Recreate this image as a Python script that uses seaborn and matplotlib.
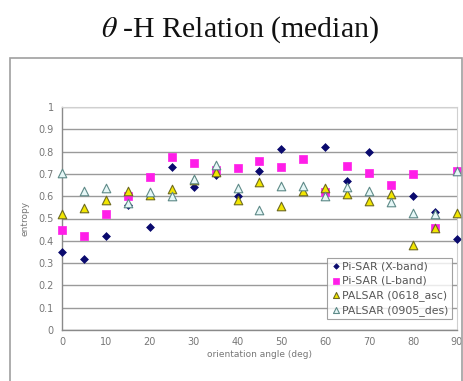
import numpy as np
import pandas as pd
import matplotlib
matplotlib.use('Agg')
import matplotlib.pyplot as plt
import seaborn as sns
from matplotlib.patches import Rectangle

sns.set_style('white')
plt.rcParams['font.family'] = ['DejaVu Sans']
plt.rcParams['mathtext.fontset'] = 'stix'

# ------------------------------------------------------------
# data (median entropy vs orientation angle)
# ------------------------------------------------------------
angle = [0, 5, 10, 15, 20, 25, 30, 35, 40, 45, 50, 55, 60, 65, 70, 75, 80, 85, 90]

x_band = [0.35, 0.32, 0.42, 0.56, 0.46, 0.73, 0.64, 0.695, 0.60, 0.714, 0.81,
          np.nan, 0.82, 0.67, 0.80, np.nan, 0.60, 0.53, 0.41]
l_band = [0.447, 0.42, 0.518, 0.60, 0.685, 0.778, 0.749, 0.718, 0.725, 0.76, 0.732,
          0.767, 0.62, 0.734, 0.704, 0.652, 0.698, 0.458, 0.713]
palsar_asc = [0.52, 0.545, 0.585, 0.623, 0.605, 0.632, 0.673, 0.71, 0.585, 0.665, 0.555,
              0.623, 0.638, 0.608, 0.578, 0.61, 0.383, 0.458, 0.525]
palsar_des = [0.705, 0.623, 0.638, 0.57, 0.62, 0.60, 0.677, 0.74, 0.636, 0.537, 0.645,
              0.645, 0.60, 0.643, 0.625, 0.576, 0.525, 0.518, 0.713]

series_names = ['Pi-SAR (X-band)', 'Pi-SAR (L-band)', 'PALSAR (0618_asc)', 'PALSAR (0905_des)']
y_ticks = [0, 0.1, 0.2, 0.3, 0.4, 0.5, 0.6, 0.7, 0.8, 0.9, 1]
y_tick_labels = ['0', '0.1', '0.2', '0.3', '0.4', '0.5', '0.6', '0.7', '0.8', '0.9', '1']
x_ticks = [0, 10, 20, 30, 40, 50, 60, 70, 80, 90]

df = pd.DataFrame({'angle': angle,
                   series_names[0]: x_band,
                   series_names[1]: l_band,
                   series_names[2]: palsar_asc,
                   series_names[3]: palsar_des})
df = df.melt(id_vars='angle', var_name='series', value_name='entropy')

styles = {
    series_names[0]: dict(marker='D', s=16, color='#0a0a6e', edgecolor='#0a0a6e', linewidth=0.5),
    series_names[1]: dict(marker='s', s=30, color='#ff1ee8', edgecolor='#ff1ee8', linewidth=0.5),
    series_names[2]: dict(marker='^', s=38, color='#f2e600', edgecolor='#6e6a20', linewidth=0.8),
    series_names[3]: dict(marker='^', s=38, color='#e6f7f7', edgecolor='#5e8a88', linewidth=0.8),
}

# ------------------------------------------------------------
# figure
# ------------------------------------------------------------
fig = plt.figure(figsize=(4.64, 3.81), dpi=100)
ax = fig.add_axes([62 / 464, 1 - 330 / 381, 395 / 464, 223 / 381])

# outer chart frame
fig.patches.append(Rectangle((10 / 464, -0.05), 452 / 464, 1 - 58 / 381 + 0.05,
                             transform=fig.transFigure, fill=False,
                             edgecolor='#a0a0a0', linewidth=1.2))

for name in series_names:
    sub = df[df['series'] == name]
    sns.scatterplot(data=sub, x='angle', y='entropy', ax=ax, label=name,
                    clip_on=False, zorder=3, **styles[name])

ax.set_xlim(0, 90)
ax.set_ylim(0, 1)
ax.set_xticks(x_ticks)
ax.set_yticks(y_ticks)
ax.set_yticklabels(y_tick_labels)
ax.yaxis.grid(True, color='#9a9a9a', linewidth=1.0)
ax.set_axisbelow(True)
for side in ['top', 'right']:
    ax.spines[side].set_color('#d0d0d0')
    ax.spines[side].set_linewidth(0.8)
for side in ['left', 'bottom']:
    ax.spines[side].set_color('#8a8a8a')
    ax.spines[side].set_linewidth(1.0)
ax.tick_params(axis='both', labelsize=7, labelcolor='#777777', color='#8a8a8a')
ax.tick_params(axis='x', direction='in', length=3, pad=5)
ax.tick_params(axis='y', direction='out', length=2, pad=4)

ax.set_xlabel('orientation angle (deg)', fontsize=6.5, color='#777777', labelpad=2)
ax.set_ylabel('entropy', fontsize=6.5, color='#777777', labelpad=6)

leg = ax.legend(loc='upper left', bbox_to_anchor=(0.671, 0.323), borderaxespad=0,
                fontsize=7.8, frameon=True, fancybox=False, handletextpad=0.1,
                handlelength=1.0, borderpad=0.3, labelspacing=0.4, markerscale=0.7)
leg.get_frame().set_edgecolor('#8a8a8a')
leg.get_frame().set_linewidth(0.8)
for t in leg.get_texts():
    t.set_color('#555555')

fig.text(240 / 464, 1 - 30 / 381, r'$\theta$ -H Relation (median)',
         family='Liberation Serif', fontsize=21.5, ha='center', va='center', color='#111111')

plt.savefig('out.png', dpi=100)
plt.close()
